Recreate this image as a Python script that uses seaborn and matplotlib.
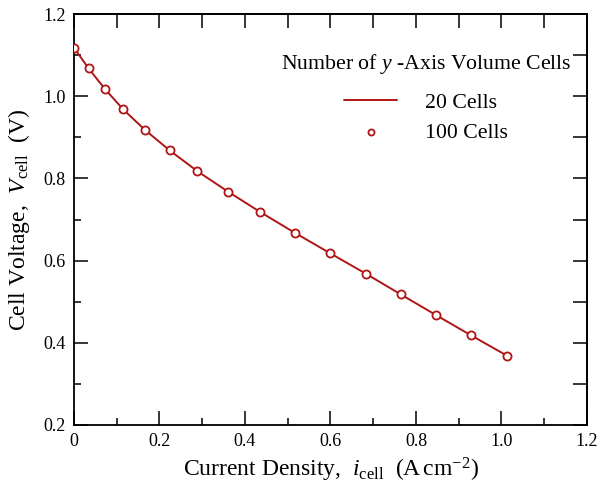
import numpy as np
import pandas as pd
import seaborn as sns
import matplotlib.pyplot as plt
from matplotlib.ticker import MultipleLocator

# Values
current_density = [0.0, 0.034, 0.072, 0.115, 0.166, 0.224, 0.288, 0.360,
                   0.436, 0.516, 0.599, 0.683, 0.764, 0.846, 0.929, 1.014]
voltage_20 = [1.118, 1.068, 1.018, 0.968, 0.918, 0.868, 0.818, 0.768,
              0.718, 0.668, 0.618, 0.568, 0.518, 0.468, 0.418, 0.368]
voltage_100 = [1.118, 1.068, 1.018, 0.968, 0.918, 0.868, 0.818, 0.768,
               0.718, 0.668, 0.618, 0.568, 0.518, 0.468, 0.418, 0.368]

x_ticks = [0, 0.2, 0.4, 0.6, 0.8, 1.0, 1.2]
x_tick_labels = ["0", "0.2", "0.4", "0.6", "0.8", "1.0", "1.2"]
y_ticks = [0.2, 0.4, 0.6, 0.8, 1.0, 1.2]
y_tick_labels = ["0.2", "0.4", "0.6", "0.8", "1.0", "1.2"]

df20 = pd.DataFrame({"i": current_density, "V": voltage_20})
df100 = pd.DataFrame({"i": current_density, "V": voltage_100})

sns.set_theme(style="ticks")
plt.rcParams["font.family"] = ["Liberation Serif", "DejaVu Serif"]
plt.rcParams["mathtext.fontset"] = "custom"
plt.rcParams["mathtext.rm"] = "Liberation Serif"
plt.rcParams["mathtext.it"] = "Liberation Serif:italic"
plt.rcParams["text.color"] = "black"
plt.rcParams["axes.labelcolor"] = "black"
plt.rcParams["legend.labelcolor"] = "black"

red = "#B01515"

fig = plt.figure(figsize=(6, 4.92), dpi=100)
ax = fig.add_axes([0.1233, 0.1362, 0.855, 0.8353])

sns.lineplot(data=df20, x="i", y="V", color=red, linewidth=1.4,
             label="20 Cells", ax=ax)
sns.scatterplot(data=df100, x="i", y="V", marker="o", s=34,
                facecolor="white", edgecolor=red, linewidth=1.3,
                label="100 Cells", ax=ax, zorder=3)

ax.set_xlim(0, 1.2)
ax.set_ylim(0.2, 1.2)
ax.set_xticks(x_ticks)
ax.set_xticklabels(x_tick_labels)
ax.set_yticks(y_ticks)
ax.set_yticklabels(y_tick_labels)
ax.xaxis.set_minor_locator(MultipleLocator(0.1))
ax.yaxis.set_minor_locator(MultipleLocator(0.1))
ax.tick_params(which="major", direction="in", length=10, width=1.1,
               labelsize=13, colors="black", pad=6)
ax.tick_params(which="minor", direction="in", length=5, width=1.1,
               colors="black")

for s in ax.spines.values():
    s.set_visible(True)
    s.set_linewidth(1.3)
    s.set_color("black")

# top and right ticks every 0.1, all equal length
top = ax.secondary_xaxis("top")
top.set_xticks(np.round(np.arange(0, 1.21, 0.1), 2))
top.tick_params(direction="in", length=10, width=1.1, labeltop=False,
                colors="black")
top.spines["top"].set_linewidth(1.3)
top.spines["top"].set_color("black")
right = ax.secondary_yaxis("right")
right.set_yticks(np.round(np.arange(0.2, 1.21, 0.1), 2))
right.tick_params(direction="in", length=10, width=1.1, labelright=False,
                  colors="black")
right.spines["right"].set_linewidth(1.3)
right.spines["right"].set_color("black")

ax.set_xlabel(r"Current Density,  $i_{\mathrm{cell}}$  (A$\,$cm$^{-2}$)",
              fontsize=17, labelpad=4)
ax.set_ylabel(r"Cell Voltage,  $V_{\mathrm{cell}}$  (V)", fontsize=17,
              labelpad=8)

handles, labels = ax.get_legend_handles_labels()
leg = ax.legend(handles, labels, title=r"Number of $y$ -Axis Volume Cells",
                loc="upper right", bbox_to_anchor=(1.008, 0.955),
                frameon=False, fontsize=15.7, title_fontsize=15.7,
                handlelength=2.4, handletextpad=1.3, markerscale=0.75,
                labelspacing=0.45)
leg._legend_box.sep = 12
leg.get_title().set_color("black")

fig.savefig("out.png", dpi=100)
